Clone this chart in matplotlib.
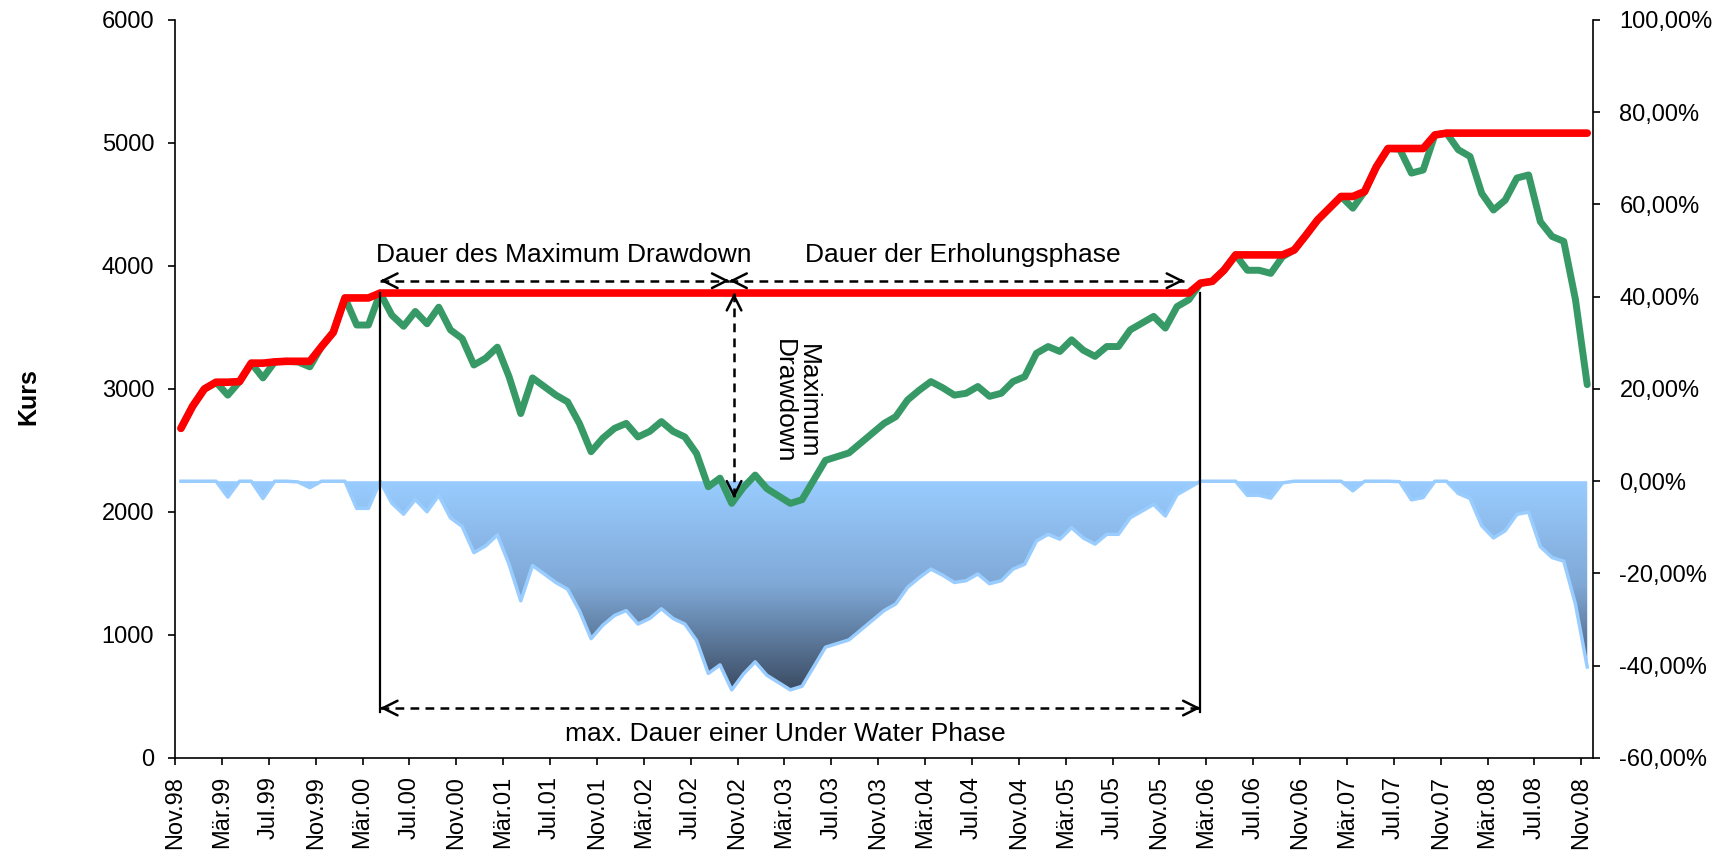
import numpy as np
import matplotlib
matplotlib.use("Agg")
import matplotlib.pyplot as plt
from matplotlib.colors import LinearSegmentedColormap
from matplotlib.ticker import FuncFormatter

plt.rcParams['font.family'] = ['Liberation Sans', 'DejaVu Sans']

# Monatskurse Nov.98 - Nov.08
kurs = [2680, 2860, 3000, 3055, 2950, 3060, 3210, 3090, 3220, 3225,
        3220, 3180, 3345, 3460, 3740, 3520, 3520, 3780, 3600, 3510,
        3630, 3530, 3665, 3480, 3410, 3195, 3250, 3340, 3100, 2800,
        3090, 3020, 2950, 2895, 2720, 2490, 2600, 2680, 2720, 2610,
        2655, 2735, 2655, 2610, 2475, 2205, 2275, 2070, 2200, 2300,
        2190, 2130, 2070, 2100, 2260, 2420, 2450, 2480, 2560, 2640,
        2720, 2775, 2910, 2990, 3060, 3010, 2950, 2965, 3020, 2940,
        2965, 3060, 3100, 3290, 3345, 3305, 3400, 3315, 3265, 3345,
        3345, 3480, 3535, 3590, 3495, 3670, 3725, 3860, 3875, 3965,
        4090, 3965, 3965, 3940, 4075, 4130, 4250, 4375, 4470, 4565,
        4470, 4605, 4805, 4955, 4950, 4755, 4780, 5065, 5080, 4945,
        4890, 4590, 4455, 4535, 4715, 4740, 4360, 4240, 4200, 3725,
        3035]

monate = ['Nov.98', 'Mär.99', 'Jul.99', 'Nov.99', 'Mär.00', 'Jul.00', 'Nov.00',
          'Mär.01', 'Jul.01', 'Nov.01', 'Mär.02', 'Jul.02', 'Nov.02', 'Mär.03',
          'Jul.03', 'Nov.03', 'Mär.04', 'Jul.04', 'Nov.04', 'Mär.05', 'Jul.05',
          'Nov.05', 'Mär.06', 'Jul.06', 'Nov.06', 'Mär.07', 'Jul.07', 'Nov.07',
          'Mär.08', 'Jul.08', 'Nov.08']
kurs_ticks = [0, 1000, 2000, 3000, 4000, 5000, 6000]
dd_ticks = [-60, -40, -20, 0, 20, 40, 60, 80, 100]

# Hochpunkt, Tiefpunkt und Erholung
i_hoch, i_tief, i_erholt = 17, 47, 87

kurs = np.array(kurs, dtype=float)
hoch = np.maximum.accumulate(kurs)
drawdown = (kurs / hoch - 1) * 100
x = np.arange(len(kurs))

fig = plt.figure(figsize=(17.35, 8.64), dpi=100)
ax = fig.add_axes([0.1009, 0.1227, 0.8173, 0.8542])
ax2 = ax.twinx()
ax.set_zorder(ax2.get_zorder() + 1)
ax.patch.set_visible(False)

# Under-Water-Flaeche mit Farbverlauf
flaeche = ax2.fill_between(x, drawdown, 0, facecolor='none', lw=0)
verlauf = LinearSegmentedColormap.from_list('uw', ['#3B4C63', '#7FA8D6', '#99CCFF'])
grad = np.linspace(0, 1, 256).reshape(-1, 1)
img = ax2.imshow(grad, cmap=verlauf, aspect='auto', origin='lower',
                 extent=[x[0], x[-1], drawdown.min(), 0], zorder=1)
img.set_clip_path(flaeche.get_paths()[0], transform=ax2.transData)
ax2.plot(x, drawdown, color='#99CCFF', lw=2.5, zorder=2)

# Kurs und laufendes Maximum
ax.plot(x, kurs, color='#379A66', lw=5, solid_joinstyle='round', solid_capstyle='round')
ax.plot(x, hoch, color='#FF0000', lw=5.5, solid_joinstyle='round', solid_capstyle='round')


def spitze(xa, ya, dx, dy):
    ax.annotate('', xy=(xa, ya), xytext=(-dx * 3, -dy * 3), textcoords='offset points',
                arrowprops=dict(arrowstyle='->, head_length=0.7, head_width=0.35',
                                lw=1.8, color='k', mutation_scale=15,
                                shrinkA=0, shrinkB=0))


def pfeil(x0, y0, x1, y1):
    ax.plot([x0, x1], [y0, y1], color='k', lw=1.8, ls=(0, (3.5, 2.5)))
    dx, dy = np.sign(x1 - x0), np.sign(y1 - y0)
    spitze(x1, y1, dx, dy)
    spitze(x0, y0, -dx, -dy)


# senkrechte Begrenzungen der Under-Water-Phase
ax.plot([i_hoch, i_hoch], [370, hoch[i_hoch]], color='k', lw=1.6)
ax.plot([i_erholt, i_erholt], [370, hoch[i_hoch]], color='k', lw=1.6)

y_oben = 3880
pfeil(i_hoch, y_oben, i_tief - 0.2, y_oben)
pfeil(i_tief - 0.2, y_oben, i_erholt - 1.4, y_oben)
pfeil(i_tief + 0.2, hoch[i_hoch], i_tief + 0.2, kurs[i_tief] + 40)
pfeil(i_hoch, 406, i_erholt, 406)

ax.text(32.7, 4090, 'Dauer des Maximum Drawdown', ha='center', va='center', fontsize=19)
ax.text(66.7, 4090, 'Dauer der Erholungsphase', ha='center', va='center', fontsize=19)
ax.text(51.6, 195, 'max. Dauer einer Under Water Phase', ha='center', va='center', fontsize=19)
ax.text(52.5, 2900, 'Maximum\nDrawdown', rotation=-90, ha='center', va='center',
        multialignment='center', fontsize=19, linespacing=1.0)

ax.text(-0.1037, 0.49, 'Kurs', transform=ax.transAxes, rotation=90,
        ha='center', va='center', fontsize=18, fontweight='bold')

# Achsen
ax.set_xlim(-0.5, len(kurs) - 0.5)
ax.set_ylim(0, 6000)
ax.set_yticks(kurs_ticks)
ax.set_xticks(np.arange(0, len(kurs), 4) - 0.5)
ax.set_xticklabels(monate, rotation=90)
ax2.set_xlim(-0.5, len(kurs) - 0.5)
ax2.set_ylim(-60, 100)
ax2.set_yticks(dd_ticks)
ax2.yaxis.set_major_formatter(FuncFormatter(lambda v, p: f'{v:.2f}%'.replace('.', ',')))

for a in (ax, ax2):
    a.spines['top'].set_visible(False)
    for s in a.spines.values():
        s.set_linewidth(1.2)
ax.spines['right'].set_visible(False)
ax2.spines['left'].set_visible(False)
ax2.spines['bottom'].set_visible(False)

ax.tick_params(axis='y', direction='out', length=5, width=1.2, labelsize=17, pad=10)
ax.tick_params(axis='x', direction='out', length=5, width=1.2, labelsize=17, pad=8)
ax2.tick_params(axis='y', direction='out', length=5, width=1.2, labelsize=17, pad=14)

fig.savefig('out.png', dpi=100)
